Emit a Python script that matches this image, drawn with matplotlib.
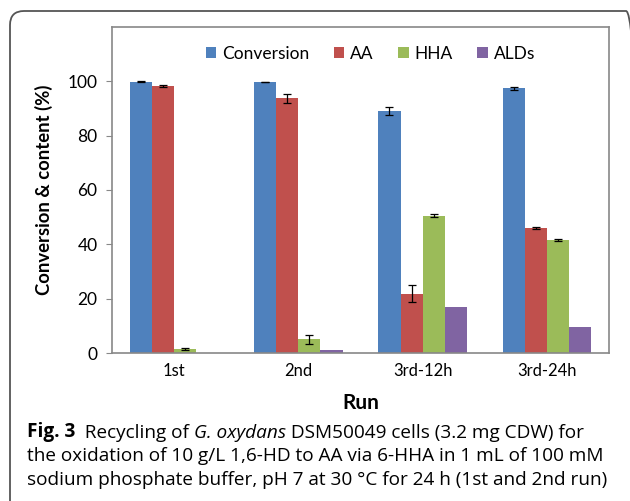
import matplotlib.pyplot as plt
import matplotlib.transforms as mtransforms
from matplotlib.patches import FancyBboxPatch
import numpy as np

# Data
runs = ['1st', '2nd', '3rd-12h', '3rd-24h']
series = ['Conversion', 'AA', 'HHA', 'ALDs']
conversion = [99.9, 99.8, 89.0, 97.4]
conversion_err = [0.2, 0.1, 1.4, 0.5]
aa = [98.3, 93.7, 21.9, 46.0]
aa_err = [0.5, 1.6, 3.0, 0.4]
hha = [1.5, 5.0, 50.5, 41.6]
hha_err = [0.3, 1.8, 0.5, 0.2]
alds = [0.0, 1.0, 17.1, 9.4]
alds_err = [0.0, 0.0, 0.0, 0.0]

colors = ['#4F81BD', '#C0504D', '#9BBB59', '#8064A2']

plt.rcParams['font.family'] = ['Lato', 'DejaVu Sans']

fig = plt.figure(figsize=(6.30, 5.01), dpi=100)
ax = fig.add_axes([112 / 630, 148 / 501, 497 / 630, 326 / 501])

# outer rounded frame (runs off the right and bottom edges)
frame = FancyBboxPatch((10, -30), 630, 520,
                       boxstyle="round,pad=0,rounding_size=14",
                       facecolor='none', edgecolor='#555555', linewidth=1.3,
                       transform=mtransforms.IdentityTransform(), clip_on=False)
fig.add_artist(frame)

x = np.arange(len(runs))
w = 0.178
values = [conversion, aa, hha, alds]
errors = [conversion_err, aa_err, hha_err, alds_err]
for i, (name, vals, errs) in enumerate(zip(series, values, errors)):
    pos = x + (i - 1.5) * w
    errs_plot = [e if e > 0 else np.nan for e in errs]
    ax.bar(pos, vals, width=w, color=colors[i], label=name, zorder=2)
    ax.errorbar(pos, vals, yerr=errs_plot, fmt='none', ecolor='black',
                elinewidth=0.9, capsize=3, capthick=0.9, zorder=3)

ax.set_xlim(-0.5, 3.5)
ax.set_ylim(0, 120)
ax.set_yticks([0, 20, 40, 60, 80, 100])
ax.set_xticks(x)
ax.set_xticklabels(runs)
ax.tick_params(axis='x', length=0, pad=7, labelsize=12)
ax.tick_params(axis='y', length=4.5, pad=6, labelsize=12.5, color='#888888')
for s in ax.spines.values():
    s.set_color('#888888')
    s.set_linewidth(1.2)

ax.set_ylabel('Conversion & content (%)', fontsize=13.3, fontweight='bold')
ax.yaxis.set_label_coords(-0.119, 0.5)
ax.set_xlabel('Run', fontsize=15, fontweight='bold')
ax.xaxis.set_label_coords(0.5, -0.123)

ax.legend(loc='upper center', bbox_to_anchor=(0.52, 1.0), ncol=4, frameon=False,
          fontsize=12.5, handlelength=0.6, handleheight=0.6, handletextpad=0.35,
          columnspacing=1.4, borderaxespad=0.7)

# caption
fs = 13.7
fam = ['Open Sans', 'DejaVu Sans']
cap = dict(fontsize=fs, family=fam, va='baseline')
t = fig.text(27 / 630, 1 - 437 / 501, 'Fig. 3', fontweight='bold', **cap)
t = ax.annotate('  Recycling of ', xy=(1, 0), xycoords=t, ha='left', va='bottom',
                fontsize=fs, family=fam)
t = ax.annotate('G. oxydans', xy=(1, 0), xycoords=t, ha='left', va='bottom',
                fontsize=fs, style='italic', family=fam)
ax.annotate(' DSM50049 cells (3.2 mg CDW) for', xy=(1, 0), xycoords=t,
            ha='left', va='bottom', fontsize=fs, family=fam)
fig.text(27 / 630, 1 - 461 / 501,
         'the oxidation of 10 g/L 1,6-HD to AA via 6-HHA in 1 mL of 100 mM', **cap)
fig.text(27 / 630, 1 - 485 / 501,
         'sodium phosphate buffer, pH 7 at 30 \u00b0C for 24 h (1st and 2nd run)', **cap)

fig.savefig('out.png', dpi=100)
